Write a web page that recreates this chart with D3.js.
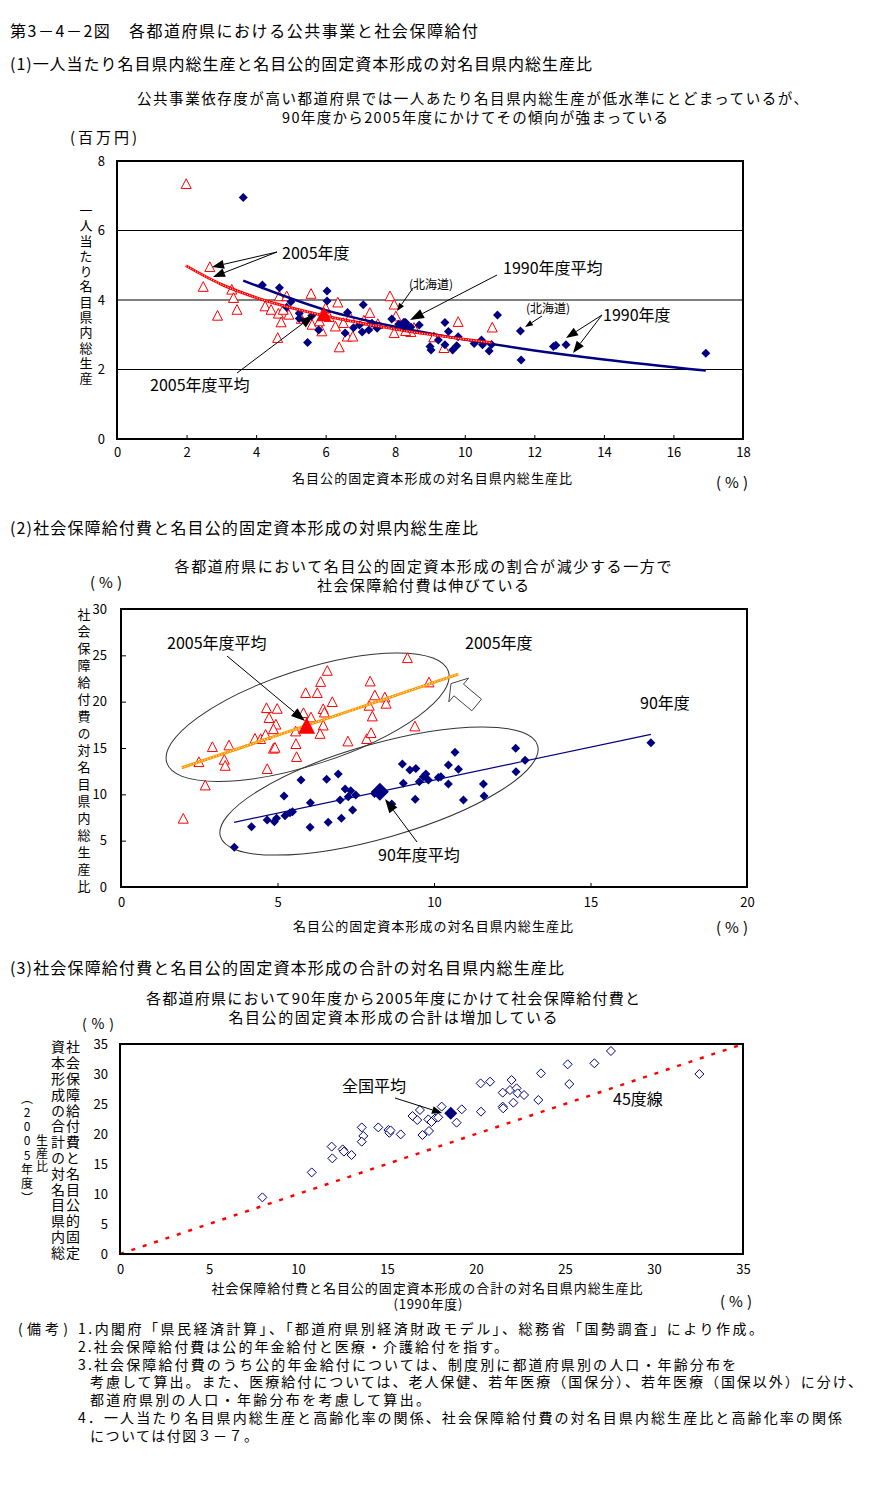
<!DOCTYPE html>
<html><head><meta charset="utf-8">
<script src="https://cdn.jsdelivr.net/npm/d3@7"></script>
<style>
body{margin:0;background:#fff;}
text{font-family:"Noto Sans CJK JP","Noto Sans",sans-serif;fill:#000;}
</style></head><body>
<svg id="c" width="884" height="1500"></svg>
<script>
// ---------------- DATA ----------------
// Panel 1: [公的固定資本形成/県内総生産 (%), 一人当たり県内総生産 (百万円)]
const p1Series = ["1990年度", "2005年度"];
const p1_1990 = [[3.63,6.95],[4.18,4.43],[4.67,4.35],[5.0,3.95],[4.88,3.79],[5.24,3.62],[5.24,3.47],[5.48,2.78],[5.80,3.14],[6.04,4.26],[6.04,3.97],[6.56,3.05],[6.63,3.64],[6.97,3.28],[7.08,3.86],[7.05,3.08],[7.24,3.14],[7.33,3.33],[7.48,3.19],[8.10,3.30],[8.45,3.22],[8.69,3.28],[9.0,2.66],[9.03,2.56],[9.24,2.85],[9.43,3.35],[9.53,3.09],[9.43,2.71],[9.65,2.56],[9.77,2.68],[9.81,2.94],[10.27,2.75],[10.48,2.85],[10.51,2.71],[10.7,2.53],[10.77,2.72],[10.94,3.57],[11.6,3.11],[11.62,2.27],[12.55,2.66],[12.62,2.70],[12.91,2.71],[16.93,2.47],[5.6,3.55],[6.8,3.2],[8.3,3.35],[7.9,3.45]];
const p1_2005 = [[1.99,7.33],[2.67,4.94],[2.48,4.37],[2.89,3.54],[3.30,4.29],[3.35,4.05],[3.45,3.71],[4.26,3.81],[4.43,3.71],[4.67,4.10],[4.64,3.60],[4.72,3.35],[4.62,2.90],[4.88,4.10],[4.94,3.57],[4.78,3.71],[5.58,4.17],[5.61,3.28],[5.82,3.38],[5.89,3.09],[6.0,3.76],[6.35,3.92],[6.28,3.23],[6.39,2.63],[6.51,3.33],[6.62,2.94],[6.78,2.94],[7.27,3.62],[7.85,4.10],[7.97,3.86],[8.02,3.52],[7.97,3.04],[8.45,3.07],[9.11,2.92],[9.81,3.36],[10.79,3.2],[9.40,2.61],[8.54,3.19],[6.1,3.5],[5.3,3.45],[7.5,3.3],[8.3,3.1],[6.7,3.5],[7.1,3.4]];
const p1Avg1990 = [8.25, 3.30];
const p1Avg2005 = [5.95, 3.57];
const p1Trend1990 = [[3.63,4.56],[6,3.71],[8,3.23],[10,2.86],[12,2.55],[14,2.29],[16.93,1.97]];
const p1Trend2005 = [[1.98,4.99],[3,4.45],[4,4.07],[6,3.54],[8,3.16],[10.77,2.77]];
const p1XTicks = [0,2,4,6,8,10,12,14,16,18];
const p1YTicks = [0,2,4,6,8];

// Panel 2: [公的固定資本形成/県内総生産 (%), 社会保障給付費/県内総生産 (%)]
const p2_2005 = [[1.99,7.34],[2.49,13.45],[2.69,10.93],[2.92,15.07],[3.30,13.7],[3.33,13.05],[3.45,15.25],[4.28,15.97],[4.46,15.94],[4.67,12.7],[4.65,19.28],[4.73,18.2],[4.99,19.2],[4.95,17.5],[4.87,17.0],[4.62,16.4],[4.87,14.9],[4.92,15.0],[5.59,15.4],[5.61,14.0],[5.58,16.76],[5.83,18.74],[5.90,20.9],[6.07,18.27],[6.27,20.9],[6.38,22.1],[6.59,23.3],[6.46,19.17],[6.75,19.93],[6.46,17.4],[6.36,16.5],[7.25,15.68],[7.85,15.94],[7.99,16.58],[7.96,22.15],[8.11,20.65],[7.93,19.53],[8.03,18.38],[8.43,20.43],[8.47,19.75],[9.15,24.67],[9.39,17.3],[9.84,22.05],[6.5,18.8]];
const p2_1990 = [[3.62,4.28],[4.17,6.5],[4.67,7.23],[4.9,7.05],[4.97,7.41],[5.21,9.82],[5.24,7.69],[5.40,8.02],[5.48,8.13],[5.75,11.55],[6.04,6.44],[6.05,9.1],[6.57,11.62],[6.62,6.98],[6.94,12.19],[7.0,9.39],[7.04,7.41],[7.16,10.58],[7.26,9.74],[7.34,10.39],[7.40,8.31],[7.50,9.93],[8.65,8.96],[8.99,13.27],[9.02,11.19],[9.23,12.62],[9.40,9.46],[9.42,12.8],[9.53,11.36],[9.66,11.9],[9.74,12.19],[9.82,11.55],[10.14,11.83],[10.22,11.9],[10.46,13.16],[10.46,11.11],[10.67,14.53],[10.78,12.7],[10.94,9.39],[11.58,11.11],[11.60,9.82],[12.61,14.96],[12.91,13.67],[12.62,12.44],[16.93,15.57],[8.1,10.1]];
const p2Avg1990 = [8.27, 10.28];
const p2Avg2005 = [5.93, 17.3];
const p2Trend2005 = [[1.94,12.87],[10.78,22.98]];
const p2Trend1990 = [[3.61,6.98],[16.93,16.47]];
const p2XTicks = [0,5,10,15,20];
const p2YTicks = [0,5,10,15,20,25,30];

// Panel 3: [1990年度 合計比 (%), 2005年度 合計比 (%)]
const p3Points = [[8.0,9.44],[10.77,13.6],[11.89,17.9],[11.93,15.94],[12.51,17.44],[12.58,17.06],[13.01,16.5],[13.58,21.1],[13.67,19.67],[13.58,18.72],[14.51,21.1],[15.08,20.67],[15.13,20.2],[15.77,19.94],[16.43,23.0],[16.7,22.33],[16.85,24.0],[16.99,19.83],[17.36,20.5],[17.32,22.44],[17.7,22.6],[17.88,22.77],[18.07,24.56],[18.91,21.89],[19.2,24.11],[20.26,28.44],[20.79,28.72],[20.28,23.72],[22.0,29.0],[21.5,26.89],[21.91,27.33],[22.28,27.61],[22.34,26.78],[22.7,26.5],[22.1,25.22],[21.5,24.56],[21.53,24.28],[23.5,25.67],[23.65,30.11],[25.15,31.61],[25.24,28.33],[26.65,31.78],[27.58,33.83],[32.55,30.0],[15.2,20.6],[17.5,22.0]];
const p3Avg = [18.58, 23.44];
const p3Diagonal = [[0,0],[35,35]];
const p3Ticks = [0,5,10,15,20,25,30,35];

const notes = [
  "1.内閣府「県民経済計算」、「都道府県別経済財政モデル」、総務省「国勢調査」により作成。",
  "2.社会保障給付費は公的年金給付と医療・介護給付を指す。",
  "3.社会保障給付費のうち公的年金給付については、制度別に都道府県別の人口・年齢分布を",
  "考慮して算出。また、医療給付については、老人保健、若年医療（国保分）、若年医療（国保以外）に分け、",
  "都道府県別の人口・年齢分布を考慮して算出。",
  "4．一人当たり名目県内総生産と高齢化率の関係、社会保障給付費の対名目県内総生産比と高齢化率の関係",
  "については付図３－７。"
];

// ---------------- DRAW ----------------
const svg = d3.select("#c");
const NAVY = "#000080", RED = "#ff0000", ORANGE = "#ff9900";

function txt(x, y, s, o = {}) {
  const t = svg.append("text").attr("x", x).attr("y", y).text(s)
    .attr("font-size", o.size || 14)
    .attr("text-anchor", o.anchor || "start")
    .attr("dominant-baseline", "central");
  if (o.len) t.attr("textLength", o.len).attr("lengthAdjust", o.adj || "spacing");
  return t;
}
// vertical text: x = column centre, yc0 = centre of the first character
function vtext(x, yc0, step, s, size) {
  svg.append("text").attr("x", x).attr("y", yc0 - size / 2).text(s)
    .attr("font-size", size)
    .style("writing-mode", "vertical-rl").style("text-orientation", "upright")
    .style("letter-spacing", (step - size) + "px");
}
function arrow(x1, y1, x2, y2, hl = 12, hw = 9, sw = 1) {
  const a = Math.atan2(y2 - y1, x2 - x1);
  const bx = x2 - hl * Math.cos(a), by = y2 - hl * Math.sin(a);
  svg.append("line").attr("x1", x1).attr("y1", y1).attr("x2", bx).attr("y2", by)
    .attr("stroke", "#000").attr("stroke-width", sw);
  const px = -Math.sin(a) * hw / 2, py = Math.cos(a) * hw / 2;
  svg.append("path").attr("d", `M${x2},${y2}L${bx + px},${by + py}L${bx - px},${by - py}Z`).attr("fill", "#000");
}
const diamond = r => `M0,${-r}L${r},0L0,${r}L${-r},0Z`;
const tri = w => `M0,${-w * 0.55}L${w / 2},${w * 0.42}L${-w / 2},${w * 0.42}Z`;

function marks(data, x, y, d, fill, stroke, sw) {
  svg.append("g").selectAll("path").data(data).join("path")
    .attr("transform", p => `translate(${x(p[0])},${y(p[1])})`)
    .attr("d", d).attr("fill", fill).attr("stroke", stroke).attr("stroke-width", sw);
}
function styleAxis(g, size) {
  g.attr("font-size", size);
  g.select(".domain").remove();
  g.selectAll("text").attr("font-size", size).attr("fill", "#000")
    .style("font-family", '"Noto Sans CJK JP",sans-serif');
  g.selectAll("line").attr("stroke", "#000");
}

// ---- Headings ----
txt(10, 30, "第3－4－2図　各都道府県における公共事業と社会保障給付", {size: 16, len: 468});
txt(10, 63, "(1)一人当たり名目県内総生産と名目公的固定資本形成の対名目県内総生産比", {size: 16, len: 582});
txt(137, 97, "公共事業依存度が高い都道府県では一人あたり名目県内総生産が低水準にとどまっているが、", {size: 14.5, len: 671});
txt(475, 116, "90年度から2005年度にかけてその傾向が強まっている", {size: 14.5, anchor: "middle", len: 386});

// ================= PANEL 1 =================
const x1 = d3.scaleLinear().domain([0, 18]).range([117, 743]);
const y1 = d3.scaleLinear().domain([0, 8]).range([439, 161]);
svg.append("g").selectAll("line").data(p1YTicks.filter(v => v > 0 && v < 8)).join("line")
  .attr("x1", x1(0)).attr("x2", x1(18)).attr("y1", d => y1(d)).attr("y2", d => y1(d))
  .attr("stroke", "#000").attr("stroke-width", 1);
styleAxis(svg.append("g").attr("transform", `translate(0,${y1(0)})`)
  .call(d3.axisBottom(x1).tickValues(p1XTicks).tickSizeInner(-4).tickSizeOuter(0).tickPadding(9)), 13);
styleAxis(svg.append("g").attr("transform", `translate(${x1(0)},0)`)
  .call(d3.axisLeft(y1).tickValues(p1YTicks).tickSize(0).tickPadding(12)), 13);

marks(p1_2005, x1, y1, tri(10), "#fff", RED, 1);
marks(p1_1990, x1, y1, diamond(4.5), NAVY, "none", 0);
const line1 = d3.line().x(d => x1(d[0])).y(d => y1(d[1])).curve(d3.curveMonotoneX);
svg.append("path").attr("d", line1(p1Trend1990)).attr("fill", "none").attr("stroke", NAVY).attr("stroke-width", 2.5);
svg.append("path").attr("d", line1(p1Trend2005)).attr("fill", "none").attr("stroke", RED).attr("stroke-width", 2.8);
svg.append("path").attr("d", line1(p1Trend2005)).attr("fill", "none").attr("stroke", "#fff").attr("stroke-width", 1).attr("stroke-dasharray", "1,1.6");
marks([p1Avg1990], x1, y1, diamond(6.5), NAVY, "none", 0);
marks([p1Avg2005], x1, y1, tri(15), RED, "none", 0);
svg.append("rect").attr("x", x1(0)).attr("y", y1(8)).attr("width", x1(18) - x1(0)).attr("height", y1(0) - y1(8))
  .attr("fill", "none").attr("stroke", "#000").attr("stroke-width", 2);

txt(70, 136, "(百万円)", {size: 15, len: 67});
vtext(86, 210, 15.3, "一人当たり名目県内総生産", 13);
txt(432, 477, "名目公的固定資本形成の対名目県内総生産比", {size: 13, anchor: "middle", len: 280});
txt(716, 481, "(%)", {size: 15, len: 32});

txt(282, 252, "2005年度", {size: 16});
arrow(277, 252, 212, 267);
arrow(277, 252, 213, 277);
txt(150, 384, "2005年度平均", {size: 16});
arrow(237, 373, 314, 315, 14, 10);
txt(409, 283, "(北海道)", {size: 12});
arrow(413, 288, 397, 311, 8, 6);
txt(503, 267, "1990年度平均", {size: 16});
arrow(497, 275, 410, 320, 14, 10);
txt(526, 307, "(北海道)", {size: 12});
arrow(542, 316, 525, 327, 8, 6);
txt(603, 314, "1990年度", {size: 16});
arrow(602, 315, 566, 338);
arrow(602, 315, 573, 353);

// ================= PANEL 2 =================
txt(10, 527, "(2)社会保障給付費と名目公的固定資本形成の対県内総生産比", {size: 16, len: 468});
txt(423, 565, "各都道府県において名目公的固定資本形成の割合が減少する一方で", {size: 15, anchor: "middle", len: 497});
txt(423, 584, "社会保障給付費は伸びている", {size: 15, anchor: "middle", len: 212});

const x2 = d3.scaleLinear().domain([0, 20]).range([121, 747]);
const y2 = d3.scaleLinear().domain([0, 30]).range([887, 609]);
styleAxis(svg.append("g").attr("transform", `translate(0,${y2(0)})`)
  .call(d3.axisBottom(x2).tickValues(p2XTicks).tickSizeInner(-4).tickSizeOuter(0).tickPadding(11)), 13);
styleAxis(svg.append("g").attr("transform", `translate(${x2(0)},0)`)
  .call(d3.axisLeft(y2).tickValues(p2YTicks).tickSizeInner(-5).tickSizeOuter(0).tickPadding(14)), 13);

svg.append("ellipse").attr("cx", 307.6).attr("cy", 717.2).attr("rx", 148).attr("ry", 47.5)
  .attr("transform", "rotate(-18,307.6,717.2)").attr("fill", "none").attr("stroke", "#333").attr("stroke-width", 1);
svg.append("ellipse").attr("cx", 379).attr("cy", 791).attr("rx", 165).attr("ry", 47)
  .attr("transform", "rotate(-16,379,791)").attr("fill", "none").attr("stroke", "#333").attr("stroke-width", 1);

marks(p2_2005, x2, y2, tri(10), "#fff", RED, 1);
const line2 = d3.line().x(d => x2(d[0])).y(d => y2(d[1]));
svg.append("path").attr("d", line2(p2Trend2005)).attr("fill", "none").attr("stroke", ORANGE).attr("stroke-width", 3);
svg.append("path").attr("d", line2(p2Trend2005)).attr("fill", "none").attr("stroke", "#fff").attr("stroke-width", 1).attr("stroke-dasharray", "1,2");
marks(p2_1990, x2, y2, diamond(4.5), NAVY, "none", 0);
svg.append("path").attr("d", line2(p2Trend1990)).attr("fill", "none").attr("stroke", NAVY).attr("stroke-width", 1.2);
marks([p2Avg1990], x2, y2, diamond(9), NAVY, "none", 0);
marks([p2Avg2005], x2, y2, tri(17), RED, "none", 0);
svg.append("rect").attr("x", x2(0)).attr("y", y2(30)).attr("width", x2(20) - x2(0)).attr("height", y2(0) - y2(30))
  .attr("fill", "none").attr("stroke", "#000").attr("stroke-width", 2);

// block arrow
svg.append("path").attr("d", "M451,683.6L468.6,678.1L463.5,684.2L481.5,699.2L471.9,710.8L453.9,695.8L448.8,701.9Z")
  .attr("fill", "#fff").attr("stroke", "#444").attr("stroke-width", 1);

txt(90, 581, "(%)", {size: 15, len: 32});
vtext(84, 614, 17, "社会保障給付費の対名目県内総生産比", 13);
txt(433, 925, "名目公的固定資本形成の対名目県内総生産比", {size: 13, anchor: "middle", len: 280});
txt(716, 926, "(%)", {size: 15, len: 32});

txt(167, 642, "2005年度平均", {size: 16});
arrow(227, 656, 305, 721, 14, 10);
txt(465, 642, "2005年度", {size: 16});
txt(640, 702, "90年度", {size: 16});
txt(378, 854, "90年度平均", {size: 16});
arrow(417, 842, 385, 799, 14, 10);

// ================= PANEL 3 =================
txt(10, 967, "(3)社会保障給付費と名目公的固定資本形成の合計の対名目県内総生産比", {size: 16, len: 554});
txt(393, 997, "各都道府県において90年度から2005年度にかけて社会保障給付費と", {size: 15, anchor: "middle", len: 494});
txt(393, 1016, "名目公的固定資本形成の合計は増加している", {size: 15, anchor: "middle", len: 329});

const x3 = d3.scaleLinear().domain([0, 35]).range([120, 743]);
const y3 = d3.scaleLinear().domain([0, 35]).range([1254, 1044]);
styleAxis(svg.append("g").attr("transform", `translate(0,${y3(0)})`)
  .call(d3.axisBottom(x3).tickValues(p3Ticks).tickSize(0).tickPadding(11)), 13);
styleAxis(svg.append("g").attr("transform", `translate(${x3(0)},0)`)
  .call(d3.axisLeft(y3).tickValues(p3Ticks).tickSize(0).tickPadding(12)), 13);

const line3 = d3.line().x(d => x3(d[0])).y(d => y3(d[1]));
svg.append("path").attr("d", line3(p3Diagonal)).attr("fill", "none").attr("stroke", RED)
  .attr("stroke-width", 2.5).attr("stroke-dasharray", "4,8");
marks(p3Points, x3, y3, diamond(4.5), "#fff", NAVY, 1);
marks([p3Avg], x3, y3, diamond(6.5), NAVY, "none", 0);
svg.append("rect").attr("x", x3(0)).attr("y", y3(35)).attr("width", x3(35) - x3(0)).attr("height", y3(0) - y3(35))
  .attr("fill", "none").attr("stroke", "#000").attr("stroke-width", 2);

txt(82, 1023, "(%)", {size: 14, len: 32});
vtext(73, 1047, 15.8, "社会保障給付費と名目公的固定", 14);
vtext(58, 1047, 15.8, "資本形成の合計の対名目県内総", 14);
vtext(42, 1140, 13, "生産比", 12);
vtext(27, 1098, 14.3, "︵2005年度︶", 12);
txt(427, 1287, "社会保障給付費と名目公的固定資本形成の合計の対名目県内総生産比", {size: 13, anchor: "middle", len: 431});
txt(428, 1303, "(1990年度)", {size: 13, anchor: "middle", len: 69});
txt(720, 1300, "(%)", {size: 15, len: 32});

txt(342, 1085, "全国平均", {size: 16});
arrow(395, 1098, 442, 1113, 10, 8);
txt(613, 1098, "45度線", {size: 16});

// ================= NOTES =================
txt(18, 1328, "(備考)", {size: 14, len: 50});
const noteX = [78, 78, 78, 90, 90, 78, 90];
const noteLen = [685, 430, 658, 772, 340, 764, 168];
notes.forEach((s, i) => txt(noteX[i], 1328 + i * 17.8, s, {size: 14, len: noteLen[i]}));
</script>
</body></html>
